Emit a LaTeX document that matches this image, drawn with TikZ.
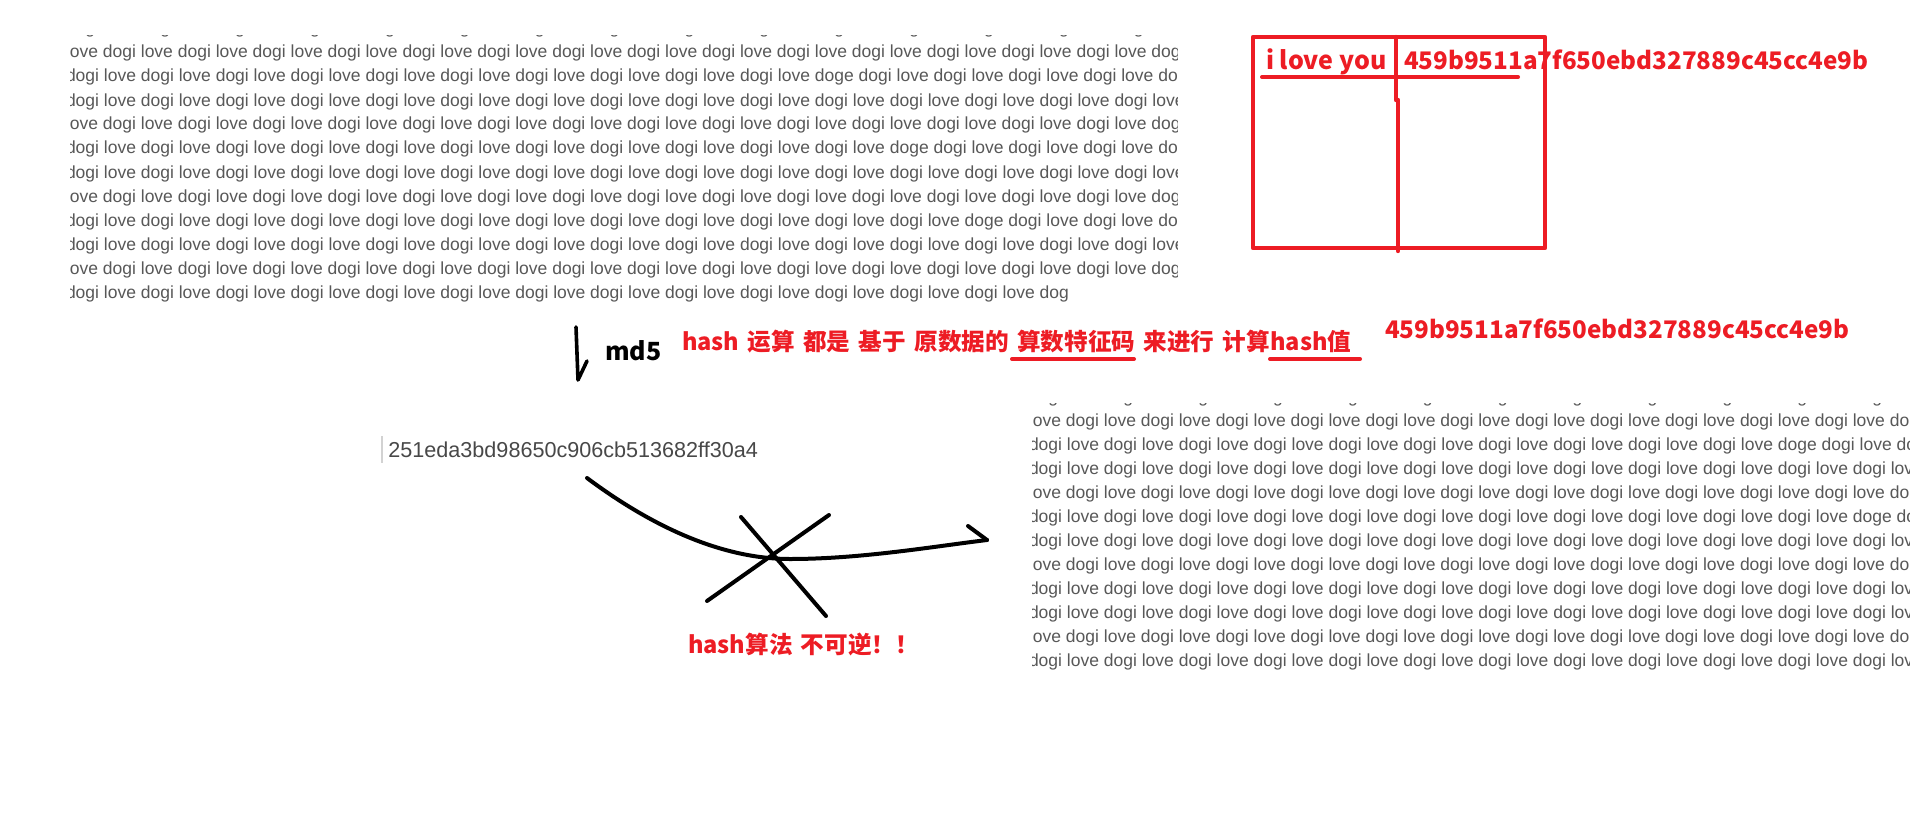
\documentclass[tikz,border=0pt]{standalone}
\usepackage{fontspec}
\newfontfamily\arialf{Liberation Sans}
\newfontfamily\cjkf{Noto Sans CJK SC}
\definecolor{pred}{RGB}{237,28,36}
\definecolor{tgray}{RGB}{88,88,88}
\definecolor{hgray}{RGB}{72,72,72}
\def\dgDL{dogi love }
\def\dgLD{love dogi }
\def\dgDLf{\dgDL\dgDL\dgDL\dgDL}
\def\dgLDf{\dgLD\dgLD\dgLD\dgLD}
\def\rowA{\dgDLf\dgDLf\dgDLf\dgDLf}
\def\rowB{\dgLDf\dgLDf\dgLDf\dgLDf}
\def\rowC{\dgDLf\dgDLf\dgDL\dgDL doge \dgDLf\dgDL\dgDL}
\def\rowD{\dgDLf\dgDLf\dgDL\dgDL\dgDL doge \dgDLf\dgDL}
\def\rowE{\dgDLf\dgDLf\dgDLf doge \dgDLf}
\def\rowF{\dgDLf\dgDLf\dgDLf\dgDL dog}
\def\wsp{\hspace{4.2pt}}
\begin{document}
\begin{tikzpicture}[x=0.5pt,y=-0.5pt,
  dogi/.style={anchor=base west, inner sep=0pt, outer sep=0pt, text=tgray, font=\arialf\fontsize{8.75}{10}\selectfont},
  redtxt/.style={anchor=base west, inner sep=0pt, outer sep=0pt, text=pred, font=\cjkf\bfseries\fontsize{12.5}{14}\selectfont},
  redline/.style={redtxt, font=\cjkf\bfseries\fontsize{11.8}{14}\selectfont},
  redhash/.style={redtxt, font=\cjkf\bfseries\fontsize{12.1}{14}\selectfont},
  blktxt/.style={redtxt, text=black},
  pline/.style={draw=pred, line width=2.2pt, line cap=round, line join=round},
  bline/.style={draw=black, line width=2pt, line cap=round, line join=round}]
\fill[white] (0,0) rectangle (1910,829);
\useasboundingbox (0,0) rectangle (1910,829);

% top-left text block
\begin{scope}
\clip (70,35.2) rectangle (1177,312);
\node[dogi] (t0) at (66,34) {\rowA};
\node[dogi] (t1) at (66,58) {\rowB};
\node[dogi] (t2) at (66,82) {\rowC};
\node[dogi] (t3) at (66,106) {\rowA};
\node[dogi] (t4) at (66,130) {\rowB};
\node[dogi] (t5) at (66,154) {\rowD};
\node[dogi] (t6) at (66,178) {\rowA};
\node[dogi] (t7) at (66,202) {\rowB};
\node[dogi] (t8) at (66,226) {\rowE};
\node[dogi] (t9) at (66,250) {\rowA};
\node[dogi] (t10) at (66,274) {\rowB};
\node[dogi] (t11) at (66,298) {\rowF};
\end{scope}

% bottom-right text block
\begin{scope}
\clip (1032,403.2) rectangle (1910,690);
\node[dogi] (b0) at (1029,402) {\rowA};
\node[dogi] (b1) at (1029,426) {\rowB};
\node[dogi] (b2) at (1029,450) {\rowC};
\node[dogi] (b3) at (1029,474) {\rowA};
\node[dogi] (b4) at (1029,498) {\rowB};
\node[dogi] (b5) at (1029,522) {\rowD};
\node[dogi] (b6) at (1029,546) {\rowA};
\node[dogi] (b7) at (1029,570) {\rowB};
\node[dogi] (b8) at (1029,594) {\rowE};
\node[dogi] (b9) at (1029,618) {\rowA};
\node[dogi] (b10) at (1029,642) {\rowB};
\node[dogi] (b11) at (1029,666) {\rowF};
\end{scope}

% red table box
\draw[pline] (1253,37) rectangle (1545,248);
\draw[pline] (1396,37) -- (1396,100);
\draw[pline] (1398,100) -- (1398,251);
\node[redtxt] (ily) at (1266,70) {i love you};
\node[redhash] (boxhash) at (1404,70) {459b9511a7f650ebd327889c45cc4e9b};
\draw[pline, line width=2pt] (1262,77) -- (1518,77);

% md5 arrow
\coordinate (m1) at (576,327);
\coordinate (m2) at (578,380);
\coordinate (m3) at (587,361);
\draw[bline, line width=1.8pt] (m1) -- (m2) -- (m3);
\node[blktxt] (md5) at (605,360) {md5};

% explanation line
\node[redline] (expl) at (682,350) {hash\wsp 运算\wsp 都是\wsp 基于\wsp 原数据的\wsp 算数特征码\wsp 来进行\wsp 计算hash值};
\draw[pline, line width=2pt] (1012,359) -- (1134,359);
\draw[pline, line width=2pt] (1270,359) -- (1360,359);
\node[redhash] (midred) at (1385,338) {459b9511a7f650ebd327889c45cc4e9b};

% md5 result
\draw[gray!35, line width=0.8pt] (382,436) -- (382,463);
\node[anchor=base west, inner sep=0pt, text=hgray, font=\arialf\fontsize{10.8}{12}\selectfont] (mid) at (388,457) {251eda3bd98650c906cb513682ff30a4};

% curved arrow (crossed out)
\coordinate (c0) at (587,478);
\coordinate (c1) at (790,559);
\coordinate (c2) at (987,540);
\coordinate (ah) at (968,526);
\draw[bline] (c0) .. controls (650,525) and (720,559) .. (c1) .. controls (860,559) and (930,547) .. (c2);
\draw[bline] (ah) -- (c2);
\coordinate (x1) at (741,517);
\coordinate (x2) at (826,616);
\coordinate (x3) at (829,515);
\coordinate (x4) at (707,601);
\draw[bline] (x1) -- (x2);
\draw[bline] (x3) -- (x4);
\node[redline] (irrev) at (688,653) {hash算法\wsp 不可逆！！};
\end{tikzpicture}
\end{document}
